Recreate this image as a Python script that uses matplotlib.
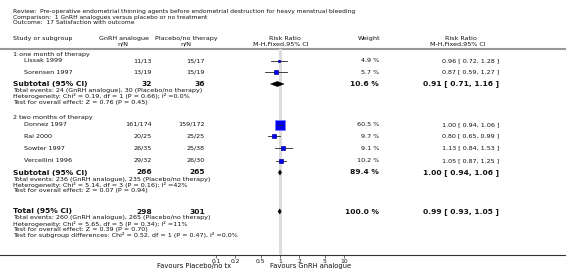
import numpy as np
import matplotlib
matplotlib.use('Agg')
import matplotlib.pyplot as plt

W, H = 566, 272

# ---- data ----
title_lines = [
    'Review:  Pre-operative endometrial thinning agents before endometrial destruction for heavy menstrual bleeding',
    'Comparison:  1 GnRH analogues versus placebo or no treatment',
    'Outcome:  17 Satisfaction with outcome',
]
groups = ['1 one month of therapy', '2 two months of therapy']
studies = ['Lissak 1999', 'Sorensen 1997', 'Donnez 1997', 'Rai 2000', 'Sowter 1997', 'Vercellini 1996']
study_group = [0, 0, 1, 1, 1, 1]
gnrh_nN = ['11/13', '13/19', '161/174', '20/25', '26/35', '29/32']
placebo_nN = ['15/17', '15/19', '159/172', '25/25', '25/38', '26/30']
weights = [4.9, 5.7, 60.5, 9.7, 9.1, 10.2]
rr = [0.96, 0.87, 1.00, 0.80, 1.13, 1.05]
rr_lo = [0.72, 0.59, 0.94, 0.65, 0.84, 0.87]
rr_hi = [1.28, 1.27, 1.06, 0.99, 1.53, 1.25]

sub_gnrh_n = [32, 266]
sub_placebo_n = [36, 265]
sub_weight = [10.6, 89.4]
sub_rr = [0.91, 1.00]
sub_lo = [0.71, 0.94]
sub_hi = [1.16, 1.06]
sub_notes = [
    ['Total events: 24 (GnRH analogue), 30 (Placebo/no therapy)',
     'Heterogeneity: Chi\u00b2 = 0.19, df = 1 (P = 0.66); I\u00b2 =0.0%',
     'Test for overall effect: Z = 0.76 (P = 0.45)'],
    ['Total events: 236 (GnRH analogue), 235 (Placebo/no therapy)',
     'Heterogeneity: Chi\u00b2 = 5.14, df = 3 (P = 0.16); I\u00b2 =42%',
     'Test for overall effect: Z = 0.07 (P = 0.94)'],
]
total_gnrh_n = 298
total_placebo_n = 301
total_weight = 100.0
total_rr, total_lo, total_hi = 0.99, 0.93, 1.05
total_notes = [
    'Total events: 260 (GnRH analogue), 265 (Placebo/no therapy)',
    'Heterogeneity: Chi\u00b2 = 5.65, df = 5 (P = 0.34); I\u00b2 =11%',
    'Test for overall effect: Z = 0.39 (P = 0.70)',
    'Test for subgroup differences: Chi\u00b2 = 0.52, df = 1 (P = 0.47), I\u00b2 =0.0%',
]
tick_vals = [0.1, 0.2, 0.5, 1, 2, 5, 10]
tick_labels = ['0.1', '0.2', '0.5', '1', '2', '5', '10']
favours_left = 'Favours Placebo/no tx'
favours_right = 'Favours GnRH analogue'

# ---- layout (pixels from top / left) ----
x_left, x_study = 13, 24
x_gnrh, x_plac = 152, 205       # right edges of n/N columns
x_weight, x_rrtxt = 379, 499    # right edges
y_axis = 255
y_hline = 48.5
fs = 4.6
fs_b = 5.4
fs_h = 4.6
tc = '#111111'

study_y = [61, 72, 124.5, 136, 148, 160.5]
group_y = [54.5, 117.5]
sub_y = [84, 172.5]
total_y = 211.5
note_dy = 5.8

fig = plt.figure(figsize=(W / 100, H / 100), dpi=100)
ax = fig.add_axes([0, 0, 1, 1])
ax.set_xlim(0, W)
ax.set_ylim(H, 0)
ax.axis('off')

def txt(x, y, s, ha='left', bold=False, size=None):
    ax.text(x, y, s, ha=ha, va='center', color=tc,
            fontsize=size or (fs_b if bold else fs),
            fontweight='bold' if bold else 'normal')

for i, line in enumerate(title_lines):
    txt(x_left, 11 + i * 6, line, size=4.3)

# header
txt(x_left, 38.5, 'Study or subgroup', size=fs_h)
txt(124, 38.5, 'GnRH analogue', ha='center', size=fs_h)
txt(123, 44, 'n/N', ha='center', size=fs_h)
txt(186, 38.5, 'Placebo/no therapy', ha='center', size=fs_h)
txt(186, 44, 'n/N', ha='center', size=fs_h)
txt(285, 38.5, 'Risk Ratio', ha='center', size=fs_h)
txt(281, 44, 'M-H,Fixed,95% CI', ha='center', size=fs_h)
txt(369, 38.5, 'Weight', ha='center', size=fs_h)
txt(461, 38.5, 'Risk Ratio', ha='center', size=fs_h)
txt(458, 44, 'M-H,Fixed,95% CI', ha='center', size=fs_h)
ax.plot([0, W], [y_hline, y_hline], color='#999999', lw=1.5)
ax.plot([0, W], [y_axis, y_axis], color='#333333', lw=0.8)

for g, name in enumerate(groups):
    txt(x_left, group_y[g], name)

for i, s in enumerate(studies):
    y = study_y[i]
    txt(x_study, y, s)
    txt(x_gnrh, y, gnrh_nN[i], ha='right')
    txt(x_plac, y, placebo_nN[i], ha='right')
    txt(x_weight, y, f'{weights[i]:.1f} %', ha='right')
    txt(x_rrtxt, y, f'{rr[i]:.2f} [ {rr_lo[i]:.2f}, {rr_hi[i]:.2f} ]', ha='right')

for g in range(len(groups)):
    y = sub_y[g]
    txt(x_left, y, 'Subtotal (95% CI)', bold=True)
    txt(x_gnrh, y, str(sub_gnrh_n[g]), ha='right', bold=True)
    txt(x_plac, y, str(sub_placebo_n[g]), ha='right', bold=True)
    txt(x_weight, y, f'{sub_weight[g]:.1f} %', ha='right', bold=True)
    txt(x_rrtxt, y, f'{sub_rr[g]:.2f} [ {sub_lo[g]:.2f}, {sub_hi[g]:.2f} ]', ha='right', bold=True)
    for k, note in enumerate(sub_notes[g]):
        txt(x_left, y + 6.5 + k * note_dy, note)

txt(x_left, total_y, 'Total (95% CI)', bold=True)
txt(x_gnrh, total_y, str(total_gnrh_n), ha='right', bold=True)
txt(x_plac, total_y, str(total_placebo_n), ha='right', bold=True)
txt(x_weight, total_y, f'{total_weight:.1f} %', ha='right', bold=True)
txt(x_rrtxt, total_y, f'{total_rr:.2f} [ {total_lo:.2f}, {total_hi:.2f} ]', ha='right', bold=True)
for k, note in enumerate(total_notes):
    txt(x_left, total_y + 6.5 + k * note_dy, note)

txt(231, 266, favours_left, ha='right', size=4.9)
txt(270, 266, favours_right, size=4.9)

# ---- forest panel on a log axis ----
fx0, fx1 = 152, 408   # 0.01 .. 100
fax = fig.add_axes([fx0 / W, (H - y_axis) / H, (fx1 - fx0) / W, (y_axis - y_hline) / H])
fax.set_xscale('log')
fax.set_xlim(0.01, 100)
fax.set_ylim(y_axis, y_hline)
fax.patch.set_alpha(0)
for sp in fax.spines.values():
    sp.set_visible(False)
fax.set_yticks([])
fax.set_xticks(tick_vals)
fax.set_xticklabels(tick_labels)
fax.xaxis.set_minor_locator(matplotlib.ticker.NullLocator())
fax.tick_params(axis='x', length=2, width=0.5, labelsize=4.3, pad=0.8,
                color='#333333', labelcolor=tc)

fax.axvline(1, color='#dddddd', lw=2.2, zorder=0)

for i in range(len(studies)):
    y = study_y[i]
    fax.plot([rr_lo[i], rr_hi[i]], [y, y], color='#222222', lw=0.6, zorder=2)
    size_px = 10 * np.sqrt(weights[i] / max(weights))
    fax.plot(rr[i], y, marker='s', ms=size_px * 0.72, mfc='#0000ee',
             mec='#7777ff' if size_px > 6 else '#000099', mew=0.5, zorder=3)
    if size_px > 6:
        fax.plot([rr_lo[i], rr_hi[i]], [y, y], color='#222222', lw=0.6, zorder=4)

def diamond(y, c, lo, hi, half=2.6):
    fax.fill([lo, c, hi, c], [y, y - half, y, y + half], color='black', lw=0.3, zorder=3)

for g in range(len(groups)):
    diamond(sub_y[g], sub_rr[g], sub_lo[g], sub_hi[g])
diamond(total_y, total_rr, total_lo, total_hi)

fig.savefig('out.png', dpi=100)
